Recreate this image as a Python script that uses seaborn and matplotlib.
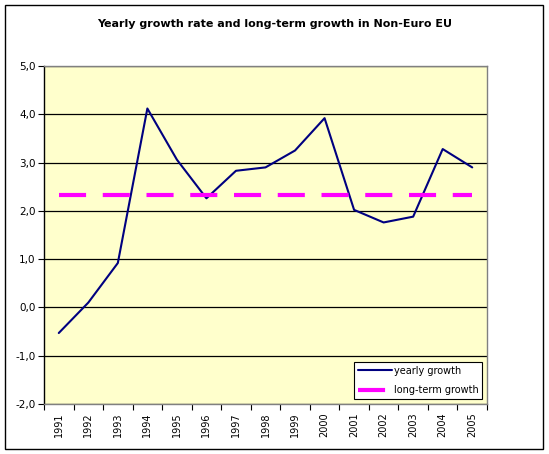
import numpy as np
import pandas as pd
import matplotlib
matplotlib.use("Agg")
import matplotlib.pyplot as plt
from matplotlib.patches import Rectangle
import seaborn as sns

years = [str(y) for y in range(1991, 2006)]
yearly_growth = [-0.53, 0.10, 0.92, 4.12, 3.06, 2.26, 2.83, 2.90, 3.25, 3.92,
                 2.02, 1.76, 1.88, 3.28, 2.90]
long_term = [2.33] * len(years)
y_ticks = [-2, -1, 0, 1, 2, 3, 4, 5]
y_labels = ["-2,0", "-1,0", "0,0", "1,0", "2,0", "3,0", "4,0", "5,0"]

df = pd.DataFrame({"year": years, "yearly growth": yearly_growth,
                   "long-term growth": long_term})

sns.set_style("white")
plt.rcParams["font.family"] = ["DejaVu Sans"]
plt.rcParams["text.color"] = "black"
plt.rcParams["xtick.color"] = "black"
plt.rcParams["ytick.color"] = "black"

fig = plt.figure(figsize=(5.49, 4.54), dpi=100)
fig.patches.append(Rectangle((5 / 549, 5 / 454), 538 / 549, 444 / 454,
                             transform=fig.transFigure, fill=False,
                             edgecolor="black", linewidth=1.0))
ax = fig.add_axes([44 / 549, 50 / 454, 443 / 549, 338 / 454])
ax.set_facecolor("#FFFFCC")

sns.lineplot(data=df, x="year", y="yearly growth", ax=ax, color="#000080",
             linewidth=1.5, label="yearly growth", sort=False)
sns.lineplot(data=df, x="year", y="long-term growth", ax=ax, color="#FF00FF",
             linewidth=3.0, dashes=False, label="long-term growth", sort=False)
ax.lines[1].set_dashes([6.5, 4])

ax.set_xlim(-0.5, len(years) - 0.5)
ax.set_ylim(-2, 5)
ax.set_yticks(y_ticks)
ax.set_yticklabels(y_labels, fontsize=7.5)
ax.set_xticks(range(len(years)))
ax.set_xticklabels(years, rotation=90, fontsize=7)
ax.set_xticks(np.arange(-0.5, len(years)), minor=True)
ax.tick_params(axis="x", which="major", length=0, pad=6)
ax.tick_params(axis="x", which="minor", length=4, width=0.8, color="black",
               direction="out", bottom=True)
ax.tick_params(axis="y", which="major", length=4, width=0.8, color="black",
               direction="out", left=True, pad=2)
ax.set_xlabel("")
ax.set_ylabel("")
ax.grid(axis="y", color="black", linewidth=0.9)
ax.set_axisbelow(True)
for s in ["top", "right", "bottom"]:
    ax.spines[s].set_color("#808080")
    ax.spines[s].set_linewidth(1.0)
ax.spines["left"].set_color("black")
ax.spines["left"].set_linewidth(1.0)

leg = ax.legend(loc="lower right", fontsize=7, frameon=True, fancybox=False,
                edgecolor="black", framealpha=1, borderaxespad=0.5,
                handlelength=3.5, handletextpad=0.2, labelspacing=1.0,
                borderpad=0.4)
leg.get_frame().set_linewidth(0.8)

fig.text(0.5, 0.947, "Yearly growth rate and long-term growth in Non-Euro EU",
         ha="center", va="center", fontsize=8, fontweight="bold")

fig.savefig("out.png", dpi=100)
